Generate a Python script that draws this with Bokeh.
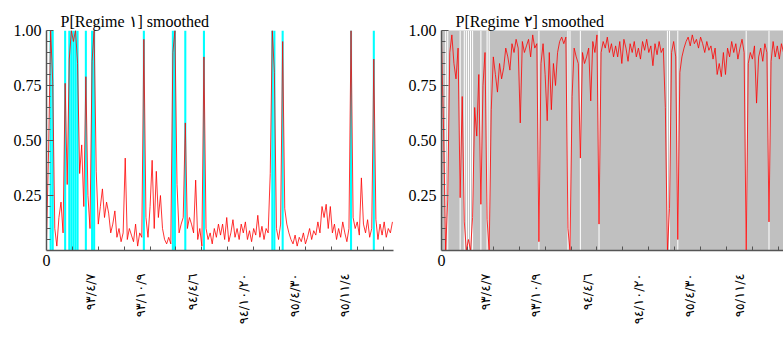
import math
from bokeh.plotting import figure
from bokeh.layouts import row
from bokeh.models import FixedTicker, Range1d, ColumnDataSource, LinearAxis, Title
from bokeh.embed import file_html
from bokeh.resources import INLINE

# ---- data (smoothed probability of regime 1, one value every 4 observations) ----
step = 4
p1 = [0.05, 0.45, 1.0, 0.77, 0.1, 0.02, 0.15, 0.22, 0.08, 0.76,
      0.3, 0.87, 1.0, 0.95, 1.0, 0.85, 0.35, 0.48, 0.2, 0.79,
      0.25, 0.1, 0.86, 1.0, 0.36, 0.12, 0.2, 0.28, 0.15, 0.22,
      0.17, 0.08, 0.12, 0.18, 0.06, 0.1, 0.04, 0.08, 0.42, 0.05,
      0.1, 0.07, 0.04, 0.12, 0.02, 0.08, 0.06, 0.96, 0.15, 0.06,
      0.2, 0.41, 0.1, 0.36, 0.15, 0.25, 0.1, 0.05, 0.03, 0.06,
      0.03, 0.9, 1.0, 0.3, 0.08, 0.12, 0.15, 0.58, 0.1, 0.15,
      0.12, 0.08, 0.32, 0.05, 0.1, 0.02, 0.88, 0.1, 0.05, 0.08,
      0.03, 0.1, 0.06, 0.12, 0.07, 0.12, 0.05, 0.15, 0.04, 0.08,
      0.14, 0.06, 0.1, 0.05, 0.12, 0.08, 0.13, 0.05, 0.09, 0.04,
      0.1, 0.07, 0.16, 0.06, 0.11, 0.05, 0.1, 0.08, 0.35, 1.0,
      0.81, 0.1, 0.05, 0.12, 0.95, 0.19, 0.12, 0.08, 0.05, 0.03,
      0.07, 0.02, 0.06, 0.04, 0.08, 0.03, 0.06, 0.1, 0.05, 0.09,
      0.07, 0.13, 0.08, 0.2, 0.15, 0.21, 0.1, 0.2, 0.08, 0.12,
      0.05, 0.1, 0.06, 0.13, 0.08, 0.04, 0.1, 1.0, 0.15, 0.1,
      0.13, 0.07, 0.33, 0.12, 0.08, 0.14, 0.06, 0.1, 0.87, 0.14,
      0.05, 0.12, 0.07, 0.13, 0.06, 0.1, 0.08, 0.13]
obs = [i * step for i in range(len(p1))]
p2 = [round(1.0 - v, 3) for v in p1]

x_tick_pos = [85, 181, 282, 381, 478, 575]
x_tick_labels = ["٩٣/٤/٧", "٩٣/١٠/٩", "٩٤/٤/٦", "٩٤/١٠/٢٠", "٩٥/٤/٣٠", "٩٥/١١/٤"]
x_minor = [50, 100, 150, 200, 250, 300, 350, 400, 450, 500, 550, 600, 650]
y_major = [0.25, 0.5, 0.75, 1.0]
y_minor = [0.05, 0.1, 0.15, 0.2, 0.3, 0.35, 0.4, 0.45, 0.55, 0.6, 0.65, 0.7,
           0.8, 0.85, 0.9, 0.95]
titles = ["P[Regime ١] smoothed", "P[Regime ٢] smoothed"]

# regime-1 classification (p1 > 0.5)
r1 = [o for o, v in zip(obs, p1) if v > 0.5]
band_left = ColumnDataSource(dict(left=[o - step / 2 for o in r1], right=[o + step / 2 for o in r1]))
band_right = ColumnDataSource(dict(left=[o - step / 4 for o in r1], right=[o + step / 4 for o in r1]))
line_src = ColumnDataSource(dict(x=obs, p1=p1, p2=p2))

SERIF = "Liberation Serif"
AXIS_COL = "#555555"
H = 338


def make_fig(width, border_left, border_right, xmax, title, ycol, bg, band_color, band_src):
    p = figure(width=width, height=H, x_range=Range1d(0, xmax), y_range=Range1d(0, 1),
               output_backend="svg", toolbar_location=None,
               min_border_left=border_left, min_border_right=border_right,
               min_border_top=30, min_border_bottom=H - 30 - 220)
    p.outline_line_color = None
    p.background_fill_color = bg
    p.border_fill_color = "white"
    p.grid.visible = False

    p.title = Title(text=title, align="left", offset=14, text_font=SERIF,
                    text_font_size="16px", text_font_style="normal",
                    text_color="black", standoff=1)

    p.quad(left="left", right="right", bottom=0, top=1, source=band_src,
           fill_color=band_color, line_color=None)
    p.line("x", ycol, source=line_src, line_color="red", line_width=1, line_alpha=0.8)

    # y axis
    ya = p.yaxis[0]
    ya.ticker = FixedTicker(ticks=y_major, minor_ticks=y_minor)
    ya.major_label_overrides = {t: f"{t:.2f}" for t in y_major}
    ya.major_label_text_font = SERIF
    ya.major_label_text_font_size = "16px"
    ya.major_label_text_color = "black"
    ya.major_label_standoff = 5
    ya.major_tick_in = 7
    ya.major_tick_out = 0
    ya.minor_tick_in = 4
    ya.minor_tick_out = 0
    ya.axis_line_color = AXIS_COL
    ya.axis_line_width = 1.5
    ya.major_tick_line_color = AXIS_COL
    ya.minor_tick_line_color = AXIS_COL

    # x axis: line + inside ticks only
    xa = p.xaxis[0]
    xa.ticker = FixedTicker(ticks=[], minor_ticks=x_minor)
    xa.major_label_standoff = 0
    xa.major_tick_line_color = None
    xa.major_tick_in = 0
    xa.major_tick_out = 0
    xa.minor_tick_in = 4
    xa.minor_tick_out = 0
    xa.minor_tick_line_color = AXIS_COL
    xa.axis_line_color = AXIS_COL
    xa.axis_line_width = 1.5

    # origin label "0"
    zero = Title(text="0", align="left", offset=-4, text_font=SERIF,
                 text_font_size="16px", text_font_style="normal",
                 text_color="black", standoff=4)

    # date labels
    xl = LinearAxis(ticker=FixedTicker(ticks=x_tick_pos))
    xl.major_label_overrides = {t: s for t, s in zip(x_tick_pos, x_tick_labels)}
    xl.major_label_orientation = math.pi / 2
    xl.major_label_text_font = "DejaVu Sans"
    xl.major_label_text_font_size = "13px"
    xl.major_label_text_color = "black"
    xl.major_label_standoff = 6
    xl.major_tick_line_color = None
    xl.major_tick_in = 0
    xl.major_tick_out = 0
    xl.minor_tick_line_color = None
    xl.axis_line_color = None

    p.below = [xa, zero, xl]
    return p


left = make_fig(400, 46, 7, 670, titles[0], "p1", "white", "cyan", band_left)
right = make_fig(383, 41, 0, 660, titles[1], "p2", "#c0c0c0", "white", band_right)

layout = row(left, right, spacing=0)
open("out.html", "w").write(file_html(layout, INLINE))
